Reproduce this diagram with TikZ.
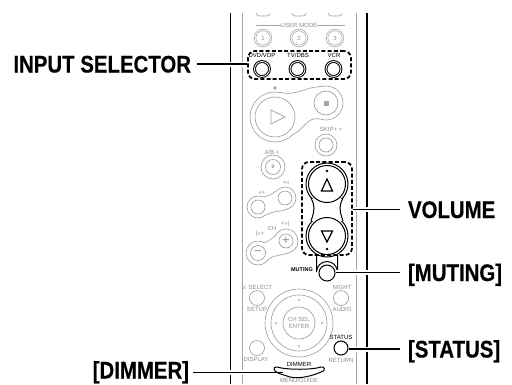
\documentclass[tikz,border=0pt]{standalone}
\usepackage{fontspec}
\setmainfont{Liberation Sans}
\newfontfamily\calloutfont[FakeStretch=0.85,FakeBold=0.4]{Liberation Sans Bold}
\usetikzlibrary{arrows.meta, positioning, shapes.geometric}

\begin{document}
\begin{tikzpicture}[
  x=1pt, y=-1pt,
  callout/.style={inner sep=0pt, outer sep=6pt, text height=17pt, text depth=0pt, font=\calloutfont\fontsize{24}{24}\selectfont},
  leader/.style={line width=1.5pt, preaction={draw=white, line width=5pt}},
  case/.style={line width=1.5pt},
  shell/.style={draw=black!35, line width=0.7pt},
  btn/.style={circle, draw=black!40, line width=0.6pt, inner sep=0pt, fill=white},
  mainbtn/.style={circle, draw=black, line width=1pt, inner sep=0pt},
  btncap/.style={inner sep=0pt, text=black!45, font=\fontsize{6}{6}\selectfont},
  maincap/.style={inner sep=0pt, font=\fontsize{6}{6}\selectfont},
  dashbox/.style={draw, dash pattern=on 4pt off 2.2pt, line width=1.7pt, rounded corners=7pt, inner sep=0pt}
]
\useasboundingbox (0,0) rectangle (512,384);

% body of the remote
\draw[case] (230.5,13) -- (230.5,384);
\draw[case] (367,13) -- (367,384);
\draw[shell] (242.5,13) -- (242.5,384);
\draw[shell] (356,13) -- (356,384);

% user mode row
\draw[shell] (256,13) .. controls (256,16) and (258,16) .. (262,16) .. controls (268,16) and (270,16) .. (270,13);
\draw[shell] (292,13) .. controls (292,16) and (294,16) .. (298,16) .. controls (304,16) and (306,16) .. (306,13);
\draw[shell] (328,13) .. controls (328,16) and (330,16) .. (334,16) .. controls (340,16) and (342,16) .. (342,13);
\node[btncap] (usermode) at (299,25) {USER MODE};
\draw[shell] (256,25) -- (usermode.west);
\draw[shell] (usermode.east) -- (345,25);
\node[btn, minimum size=16pt, double=white, double distance=1pt] (one) at (263,38) {};
\node[btn, minimum size=16pt, double=white, double distance=1pt] (two) at (299,38) {};
\node[btn, minimum size=16pt, double=white, double distance=1pt] (three) at (335,38) {};
\node[btncap] at (one) {1};
\node[btncap] at (two) {2};
\node[btncap] at (three) {3};

% input selector
\node[dashbox, minimum width=103pt, minimum height=28pt] (selbox) at (299.5,65) {};
\node[maincap] (dvdcap) at (262,55) {DVD/VDP};
\node[maincap] (tvcap) at (298,55) {TV/DBS};
\node[maincap] (vcrcap) at (334,55) {VCR};
\node[mainbtn, minimum size=15pt, double=white, double distance=0.8pt] (dvd) at (262,69) {};
\node[mainbtn, minimum size=15pt, double=white, double distance=0.8pt] (tv) at (297.5,69) {};
\node[mainbtn, minimum size=15pt, double=white, double distance=0.8pt] (vcr) at (333.5,69) {};

% play and stop
\node[btn, fill=none, minimum size=50pt] (playout) at (275,117) {};
\node[btn, fill=none, minimum size=34pt] (stopout) at (326,103) {};
\fill[white] (280,92.5) .. controls (295,94) and (305,87) .. (326,87) -- (326,118) .. controls (312,118) and (308,130) .. (292,135) -- cycle;
\draw[shell] (280,92.5) .. controls (298,96) and (304,87) .. (322,86.5);
\draw[shell] (292,135) .. controls (304,130) and (307,116) .. (320,119);
\node[btn, minimum size=40pt] (play) at (275,117) {};
\node[btn, minimum size=24pt] (stop) at (326,103) {};
\fill[black!35] (323.5,100.5) rectangle (328.5,105.5);
\fill[black!35] (275,88) circle (1.8pt);
\draw[shell] (271,110) -- (285,117) -- (271,124) -- cycle;

% skip and a/b
\node[btncap] (skipcap) at (331,129) {SKIP+ +};
\node[btn, minimum size=22pt] (skipout) at (326,145) {};
\node[btn, minimum size=14pt] (skip) at (326,145) {};
\node[btncap] (abcap) at (272,152) {A/B +};
\node[btn, minimum size=24pt] (about) at (273,167) {};
\node[btn, minimum size=15pt] (ab) at (273,167) {};
\node[btncap, font=\bfseries\fontsize{5}{5}\selectfont] at (ab) {II};

% search pair
\node[btn, fill=none, minimum size=22pt] (rew) at (258,207) {};
\node[btn, fill=none, minimum size=22pt] (ffwd) at (285,198) {};
\fill[white] (262,197) -- (276,191) -- (289,208) -- (266,216) -- cycle;
\draw[shell] (262,196.7) .. controls (268,197) and (272,194) .. (276,191);
\draw[shell] (266,215) .. controls (272,211) and (280,212) .. (289,208.5);
\node[btn, minimum size=14pt] at (rew) {};
\node[btn, minimum size=14pt] at (ffwd) {};
\node[btncap] (rewcap) at (262,193) {<<+};
\node[btncap] (ffwdcap) at (286,183) {+>>};

% channel pair
\node[btncap] (chcap) at (272,228) {CH};
\node[btncap] (prevcap) at (260,234) {|<<+};
\node[btncap] (nextcap) at (285,224) {+>>|};
\node[btn, fill=none, minimum size=24pt] (minusout) at (258,253) {};
\node[btn, fill=none, minimum size=24pt] (plusout) at (286,241) {};
\fill[white] (264,243) -- (275,236) -- (290,252) -- (268,260) -- cycle;
\draw[shell] (264,242.5) .. controls (268,242) and (271,239) .. (275,236);
\draw[shell] (268,260) .. controls (274,254) and (282,256) .. (290,252.5);
\node[btn, minimum size=15pt] (minus) at (258,253) {};
\node[btn, minimum size=14pt] (plus) at (286,241) {};
\node[btncap, font=\fontsize{13}{13}\selectfont] at (plus) {+};
\node[btncap, font=\fontsize{13}{13}\selectfont] at (minus) {−};

% volume
\node[dashbox, minimum width=50pt, minimum height=93pt] (volbox) at (327,208.5) {};
\node[mainbtn, minimum size=42pt] (volup) at (327,184) {};
\node[mainbtn, minimum size=42pt] (voldown) at (327,236) {};
\fill[white] (312,199) rectangle (342,221);
\node[mainbtn, minimum size=37pt] at (volup) {};
\node[mainbtn, minimum size=37pt] at (voldown) {};
\draw[line width=1pt] (311,198) .. controls (313,202) and (314,205) .. (314,208) .. controls (314,212) and (313,215) .. (311,221);
\draw[line width=1pt] (343,198) .. controls (341,202) and (340,205) .. (340,208) .. controls (340,212) and (341,215) .. (343,221);
\draw[line width=1.2pt] (327,179) -- (332.5,191) -- (321.5,191) -- cycle;
\draw[line width=1.2pt] (327,242) -- (332.5,231) -- (321.5,231) -- cycle;
\fill (327,171) circle (1.3pt);
\fill (327,249) circle (1.3pt);

% muting
\draw[line width=1pt] (316.5,255) -- (316.5,272) arc[start angle=180, end angle=360, radius=10.5] -- (337.5,255);
\node[mainbtn, minimum size=16pt] (mute) at (327,273) {};
\node[maincap, font=\bfseries\fontsize{5.5}{6}\selectfont] (mutecap) at (302,270) {MUTING};

% directional pad
\node[btncap] (vselcap) at (257,287) {V. SELECT};
\node[btn, minimum size=15pt] (vsel) at (257,298) {};
\node[btncap] (setupcap) at (257,309) {SETUP};
\node[btncap] (nightcap) at (342,287) {NIGHT};
\node[btn, minimum size=15pt] (night) at (341,298) {};
\node[btncap] (audiocap) at (342,309) {AUDIO};
\node[btn, minimum size=68pt] (padout) at (299,323) {};
\node[btn, minimum size=56pt] (padin) at (299,323) {};
\node[btn, minimum size=32pt] (enter) at (299,323) {};
\node[btncap, align=center] (entercap) at (enter) {CH SEL\\[1pt]ENTER};
\fill[black!40] (299,300) circle (1pt);
\fill[black!40] (299,346) circle (1pt);
\fill[black!40] (276,323) circle (1pt);
\fill[black!40] (322,323) circle (1pt);

% display, status, dimmer
\node[btn, minimum size=15pt] (display) at (257,348) {};
\node[btncap] (displaycap) at (256,359) {DISPLAY};
\node[maincap] (statuscap) at (341,337) {STATUS};
\node[mainbtn, minimum size=14pt] (status) at (341,348) {};
\node[btncap] (returncap) at (341,360) {RETURN};
\node[maincap] (dimmercap) at (299,364) {DIMMER};
\node[btncap] (menucap) at (299,380.5) {MENU/GUIDE};

% callouts
\node[callout, anchor=east] (input) at (197,64) {INPUT SELECTOR};
\node[callout, outer sep=8pt, anchor=west] (volume) at (400,209.5) {VOLUME};
\node[callout, outer sep=8pt, anchor=west] (muting) at (400,272.5) {[MUTING]};
\node[callout, outer sep=8pt, anchor=west] (statustxt) at (400,349) {[STATUS]};
\node[callout, outer sep=4pt, anchor=east] (dimmer) at (193,370) {[DIMMER]};

\draw[leader] (input.east) -- (input -| selbox.west);
\draw[leader] (volume.west) -- (volume -| volbox.east);
\draw[leader] (muting.west) -- (muting -| mute.east);
\draw[leader] (statustxt.west) -- (statustxt -| status.east);
\coordinate (dimend) at (283,372.5);
\draw[leader] (dimmer.east |- dimend) -- (dimend);
\draw[line width=1pt] (277,367) .. controls (287,370) and (312,370) .. (321,367) .. controls (325,366) and (326,371) .. (321,372) .. controls (312,376) and (300,379) .. (290,377) .. controls (285,375) and (278,374) .. (275,371) .. controls (273,368) and (275,366) .. (277,367) -- cycle;
\end{tikzpicture}
\end{document}
